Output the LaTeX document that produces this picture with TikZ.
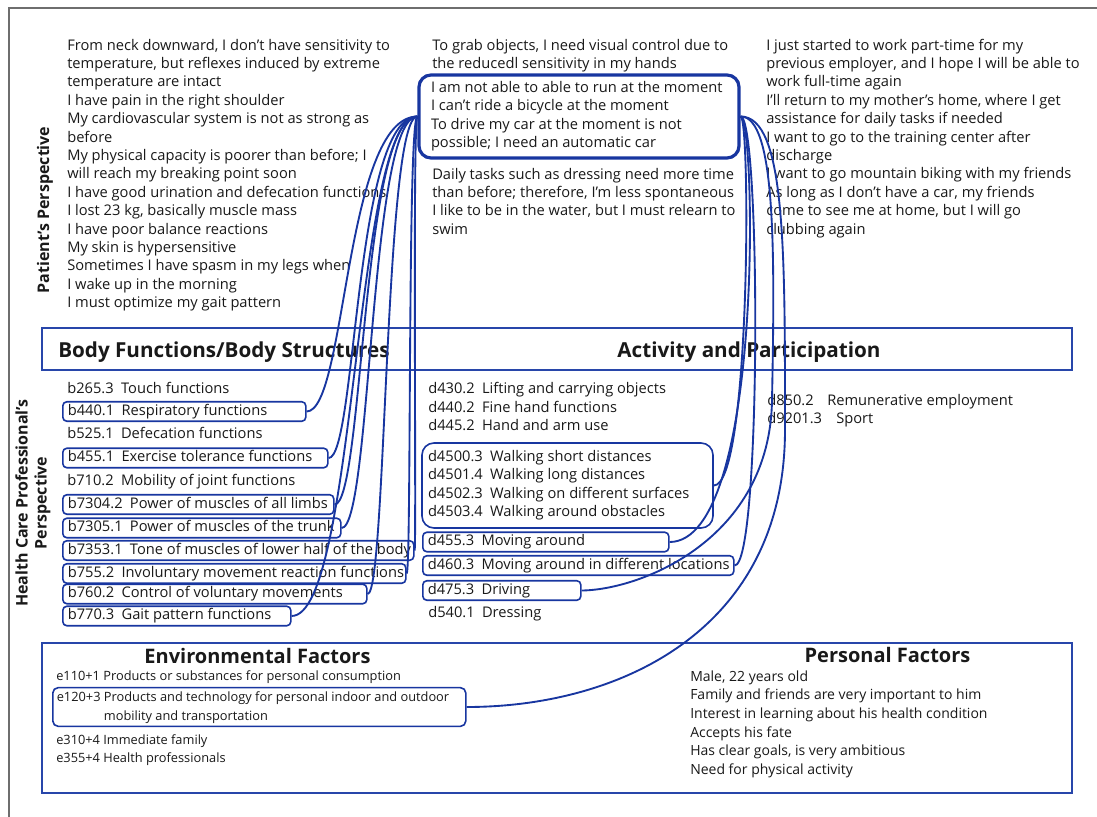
\documentclass[tikz,border=0pt]{standalone}
\usepackage{fontspec}
\setmainfont{Open Sans}
\usetikzlibrary{calc}
\definecolor{cblue}{RGB}{24,54,160}
\definecolor{hblue}{RGB}{40,70,170}
\definecolor{framegray}{RGB}{110,110,110}
\definecolor{ink}{RGB}{25,25,25}
\newcommand{\fs}{\fontsize{11}{13.8}\selectfont}
\newcommand{\fe}{\fontsize{9.6}{14.2}\selectfont}
\newcommand{\fpf}{\fontsize{10.5}{13.95}\selectfont}
\newcommand{\ttl}{\fontsize{15.5}{18}\selectfont\bfseries}
\newcommand{\ttlb}{\fontsize{15}{18}\selectfont\bfseries}
\newcommand{\tl}[1]{\begin{tabular}{@{}l@{}}#1\end{tabular}}
\newcommand{\bx}[2]{\makebox[#1][l]{#2}}
\begin{document}
\begin{tikzpicture}[x=0.75pt,y=-0.75pt,font=\fs,text=ink,
  blk/.style={anchor=north west,inner sep=0pt,align=left},
  item/.style={anchor=west,inner xsep=3.75pt,inner ysep=1.9pt,text height=8.2pt,text depth=2.6pt},
  ibox/.style={item,draw=cblue,line width=1.2pt,rounded corners=3pt},
  eitem/.style={item,font=\fe,inner xsep=3pt},
  ppbox/.style={draw=cblue,line width=2.4pt,rounded corners=9pt,inner xsep=9pt,inner ysep=0pt,minimum height=62.25pt},
  gbox/.style={draw=cblue,line width=1.2pt,rounded corners=9pt,inner xsep=4.5pt,inner ysep=0pt,minimum height=63.75pt},
  ebox/.style={anchor=west,font=\fe,draw=cblue,line width=1.2pt,rounded corners=4pt,inner xsep=3pt,inner ysep=0.3pt},
  hbox/.style={draw=hblue,line width=1.1pt,minimum width=772.5pt,minimum height=31.5pt,inner sep=0pt},
  title/.style={font=\ttl,inner sep=0pt},
  titleb/.style={font=\ttlb,inner sep=0pt},
  side/.style={rotate=90,font=\fontsize{12}{14.3}\selectfont\bfseries,align=center,inner sep=0pt},
  conn/.style={draw=cblue,line width=1.4pt}]
\useasboundingbox (0,0) rectangle (1097,817);
\fill[white] (0,0) rectangle (1097,817);
\draw[framegray,line width=1pt] (9,817) -- (9,8) -- (1097,8);

% side labels
\node[side] (lpat) at (45,210) {Patient’s Perspective};
\node[side] (lhcp) at (33,503) {Health Care Professional’s\\Perspective};

% patient's perspective texts
\node[blk] (pleft) at (67,37) {\tl{From neck downward, I don’t have sensitivity to\\temperature, but reflexes induced by extreme\\temperature are intact\\I have pain in the right shoulder\\My cardiovascular system is not as strong as\\before\\My physical capacity is poorer than before; I\\will reach my breaking point soon\\I have good urination and defecation functions\\I lost 23 kg, basically muscle mass\\I have poor balance reactions\\My skin is hypersensitive\\Sometimes I have spasm in my legs when\\I wake up in the morning\\I must optimize my gait pattern}};
\node[blk] (pmid1) at (432,37) {\tl{To grab objects, I need visual control due to\\the reducedl sensitivity in my hands}};
\node[ppbox] (pp) at (579,116.5) {\bx{222pt}{\tl{I am not able to able to run at the moment\\I can’t ride a bicycle at the moment\\To drive my car at the moment is not\\possible; I need an automatic car}}};
\node[blk] (pmid2) at (432,166) {\tl{Daily tasks such as dressing need more time\\than before; therefore, I’m less spontaneous\\I like to be in the water, but I must relearn to\\swim}};
\node[blk] (pright) at (766,37) {\tl{I just started to work part-time for my\\previous employer, and I hope I will be able to\\work full-time again\\I’ll return to my mother’s home, where I get\\assistance for daily tasks if needed\\I want to go to the training center after\\discharge\\I want to go mountain biking with my friends\\As long as I don’t have a car, my friends\\come to see me at home, but I will go\\clubbing again}};

% header bar
\node[hbox] (hdr) at (557,349) {};
\node[title,anchor=base west] (tbf) at (58,357) {Body Functions/Body Structures};
\node[title,anchor=base] (tap) at (749,357) {Activity and Participation};

% body functions
\node[item] (b265) at (62,390) {b265.3\enspace Touch functions};
\node[ibox] (b440) at (62,411.5) {\bx{174.75pt}{b440.1\enspace Respiratory functions}};
\node[item] (b525) at (62,435) {b525.1\enspace Defecation functions};
\node[ibox] (b455) at (62,458) {\bx{191.25pt}{b455.1\enspace Exercise tolerance functions}};
\node[item] (b710) at (62,482) {b710.2\enspace Mobility of joint functions};
\node[ibox] (b7304) at (62,504.5) {\bx{195.75pt}{b7304.2\enspace Power of muscles of all limbs}};
\node[ibox] (b7305) at (62,528) {\bx{201pt}{b7305.1\enspace Power of muscles of the trunk}};
\node[ibox] (b7353) at (62,550.5) {\bx{255.75pt}{b7353.1\enspace Tone of muscles of lower half of the body}};
\node[ibox] (b755) at (62,573.5) {\bx{249.75pt}{b755.2\enspace Involuntary movement reaction functions}};
\node[ibox] (b760) at (62,594) {\bx{220.5pt}{b760.2\enspace Control of voluntary movements}};
\node[ibox] (b770) at (62,616) {\bx{163.5pt}{b770.3\enspace Gait pattern functions}};

% activity and participation
\node[item] (d430) at (423,390) {d430.2\enspace Lifting and carrying objects};
\node[item] (d440) at (423,408.5) {d440.2\enspace Fine hand functions};
\node[item] (d445) at (423,427) {d445.2\enspace Hand and arm use};
\node[gbox] (gr) at (567.5,485.5) {\bx{209.25pt}{\tl{d4500.3\enspace Walking short distances\\d4501.4\enspace Walking long distances\\d4502.3\enspace Walking on different surfaces\\d4503.4\enspace Walking around obstacles}}};
\node[ibox] (d455) at (422,542) {\bx{177pt}{d455.3\enspace Moving around}};
\node[ibox] (d460) at (422,565.5) {\bx{225.75pt}{d460.3\enspace Moving around in different locations}};
\node[ibox] (d475) at (422,590.5) {\bx{111pt}{d475.3\enspace Driving}};
\node[item] (d540) at (423,614) {d540.1\enspace Dressing};
\node[item] (d850) at (762,402) {\bx{45pt}{d850.2}Remunerative employment};
\node[item] (d920) at (762,420) {\bx{51.75pt}{d9201.3}Sport};

% environmental and personal factors
\node[hbox,minimum height=112.5pt] (envbox) at (557,718) {};
\node[titleb,anchor=base] (tenv) at (257.5,663) {Environmental Factors};
\node[titleb,anchor=base] (tpf) at (887.5,662) {Personal Factors};
\node[eitem] (e110) at (52,677) {e110+1 Products or substances for personal consumption};
\node[ebox] (e120) at (52,707) {\bx{303.75pt}{\begin{tabular}{@{}l@{\hspace{0.26em}}l@{}}e120+3&Products and technology for personal indoor and outdoor\\&mobility and transportation\end{tabular}}};
\node[eitem] (e310) at (52,741) {e310+4 Immediate family};
\node[eitem] (e355) at (52,759) {e355+4 Health professionals};
\node[blk,font=\fpf] (pf) at (690,668) {\tl{Male, 22 years old\\Family and friends are very important to him\\Interest in learning about his health condition\\Accepts his fate\\Has clear goals, is very ambitious\\Need for physical activity}};

% connectors, left
\draw[conn] (pp.west) .. controls +(-73,0) and +(40,0) .. (b440.east);
\draw[conn] (pp.west) .. controls +(-63,0) and +(28,0) .. (b455.east);
\draw[conn] (pp.west) .. controls +(-56,0) and +(29,0) .. (b7304.east);
\draw[conn] (pp.west) .. controls +(-48,0) and +(30,0) .. (b7305.east);
\draw[conn] (pp.west) .. controls +(-63,0) and +(65,0) .. (b770.east);
\draw[conn] (pp.west) .. controls +(-33,0) and +(19,0) .. (b760.east);
\draw[conn] (pp.west) .. controls +(-10,0) and +(5,0) .. (b755.east);
\draw[conn] (pp.west) .. controls +(-5,0) and +(2,0) .. (b7353.east);
% connectors, right
\draw[conn] (pp.east) .. controls +(10,0) and +(37,0) .. (gr.east);
\draw[conn] (pp.east) .. controls +(15,0) and +(95,0) .. (d455.east);
\draw[conn] (pp.east) .. controls +(20,0) and +(27,0) .. (d460.east);
\draw[conn] (pp.east) .. controls +(35,0) and (775,250) .. (772,400) .. controls (770,540) and (640,590) .. (d475.east);
\draw[conn] (pp.east) .. controls +(45,0) and (785,250) .. (785,430) .. controls (785,630) and (620,707) .. (e120.east);
\end{tikzpicture}
\end{document}
